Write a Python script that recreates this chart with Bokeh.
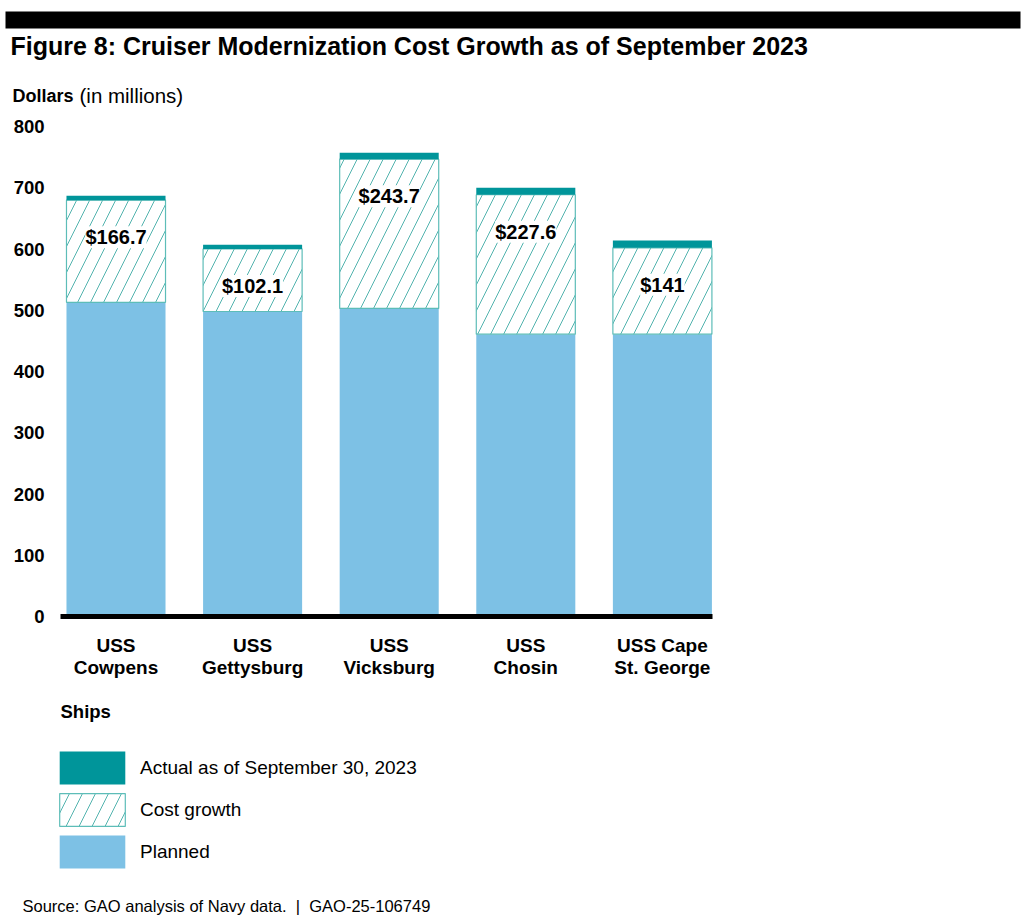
from bokeh.plotting import figure
from bokeh.models import (ColumnDataSource, Range1d, FixedTicker, LabelSet, Label,
                          Legend, LegendItem, BoxAnnotation, LinearAxis)
from bokeh.core.properties import value
from bokeh.embed import file_html
from bokeh.resources import INLINE

# ---------------- data ----------------
ships = ["USS Cowpens", "USS Gettysburg", "USS Vicksburg", "USS Chosin", "USS Cape St. George"]
ship_tick_labels = ["USS\nCowpens", "USS\nGettysburg", "USS\nVicksburg", "USS\nChosin", "USS Cape\nSt. George"]
planned = [513, 498, 503, 461, 461]
growth = [166.7, 102.1, 243.7, 227.6, 141.0]
actual = [687, 607, 757, 700, 614]
growth_labels = ["$166.7", "$102.1", "$243.7", "$227.6", "$141"]
y_ticks = [0, 100, 200, 300, 400, 500, 600, 700, 800]

# ---------------- style ----------------
FONT = "Liberation Sans"
BLUE = "#7DC1E5"
TEAL = "#00959A"
HATCH = "#52B3AE"
OUTLINE = "#5DBDB8"

# ---------------- layout (page pixels) ----------------
W, H = 1025, 916
PX_PER_X = 136.6      # pixels between bar centres
FIRST_CX = 115.5      # pixel centre of first bar
PX_PER_Y = 0.6125     # pixels per million dollars
ZERO_PY = 616         # pixel row of the zero line

X0 = 1 - FIRST_CX / PX_PER_X
X1 = X0 + W / PX_PER_X
Y0 = (ZERO_PY - H) / PX_PER_Y
Y1 = ZERO_PY / PX_PER_Y


def dx(px):
    return X0 + px / PX_PER_X


def dy(py):
    return (ZERO_PY - py) / PX_PER_Y


pos = list(range(1, len(ships) + 1))
growth_top = [p_ + g for p_, g in zip(planned, growth)]

src = ColumnDataSource(dict(x=pos, ship=ships, planned=planned, growth=growth,
                            growth_top=growth_top, actual=actual, label=growth_labels))

p = figure(width=W, height=H, x_range=Range1d(X0, X1), y_range=Range1d(Y0, Y1),
           x_axis_location=None, y_axis_location=None, min_border=0,
           output_backend="svg", toolbar_location=None)
p.outline_line_color = None
p.xgrid.visible = False
p.ygrid.visible = False
p.background_fill_color = "white"
p.border_fill_color = "white"

BW = 0.725
r_planned = p.vbar(x="x", bottom=0, top="planned", width=BW, source=src,
                   fill_color=BLUE, line_color=None)
r_growth = p.vbar(x="x", bottom="planned", top="growth_top", width=BW, source=src,
                  fill_color="white", line_color=OUTLINE, line_width=1.2,
                  hatch_pattern="/", hatch_color=HATCH, hatch_scale=26, hatch_weight=1.0)
r_actual = p.vbar(x="x", bottom="growth_top", top="actual", width=BW, source=src,
                  fill_color=TEAL, line_color=None)

labels = LabelSet(x="x", y="growth_top", text="label", source=src, y_offset=-37,
                  text_align="center", text_baseline="middle",
                  text_font=value(FONT), text_font_style="bold", text_font_size="20px",
                  text_color="black", background_fill_color="white")
p.add_layout(labels)

# axes at fixed locations
yaxis = LinearAxis(fixed_location=dx(60), ticker=FixedTicker(ticks=y_ticks), bounds=(0, 800))
yaxis.axis_line_color = None
yaxis.major_tick_line_color = None
yaxis.minor_tick_line_color = None
yaxis.major_tick_out = 0
yaxis.major_tick_in = 0
yaxis.major_label_standoff = 16
yaxis.major_label_text_font = FONT
yaxis.major_label_text_font_style = "bold"
yaxis.major_label_text_font_size = "18.5px"
yaxis.major_label_text_color = "black"
p.add_layout(yaxis, "left")

xaxis = LinearAxis(fixed_location=0, ticker=FixedTicker(ticks=pos), bounds=(dx(60), dx(712)))
xaxis.major_label_overrides = {i: lab for i, lab in zip(pos, ship_tick_labels)}
xaxis.axis_line_color = "black"
xaxis.axis_line_width = 5
xaxis.major_tick_line_color = None
xaxis.minor_tick_line_color = None
xaxis.major_tick_out = 0
xaxis.major_tick_in = 0
xaxis.major_label_standoff = 18
xaxis.major_label_text_font = FONT
xaxis.major_label_text_font_style = "bold"
xaxis.major_label_text_font_size = "19px"
xaxis.major_label_text_line_height = 1.05
xaxis.major_label_text_color = "black"
p.add_layout(xaxis, "below")

# header bar
p.add_layout(BoxAnnotation(left=dx(5), right=dx(1020), top=dy(11), bottom=dy(28),
                           fill_color="black", fill_alpha=1, line_color=None))


def add_text(x, y, text, size, style="normal", color="black"):
    p.add_layout(Label(x=dx(x), y=dy(y), text=text,
                       text_font=FONT, text_font_size=size, text_font_style=style,
                       text_color=color, text_baseline="middle", text_align="left"))


add_text(10, 45, "Figure 8: Cruiser Modernization Cost Growth as of September 2023", "25px", "bold")
add_text(12, 95, "Dollars", "18px", "bold")
add_text(79, 95, "(in millions)", "20.5px")
add_text(60, 711, "Ships", "18.5px", "bold")
add_text(22, 905, "Source: GAO analysis of Navy data. \u00a0|\u00a0 GAO-25-106749", "16.5px")

legend = Legend(items=[LegendItem(label="Actual as of September 30, 2023", renderers=[r_actual]),
                       LegendItem(label="Cost growth", renderers=[r_growth]),
                       LegendItem(label="Planned", renderers=[r_planned])],
                location=(51, H - 872), orientation="vertical",
                glyph_width=82, glyph_height=41, spacing=1, label_standoff=7,
                padding=0, margin=0, border_line_color=None, background_fill_alpha=0,
                label_text_font=FONT, label_text_font_size="19px", label_text_color="black")
p.add_layout(legend)

open("out.html", "w").write(file_html(p, INLINE))
